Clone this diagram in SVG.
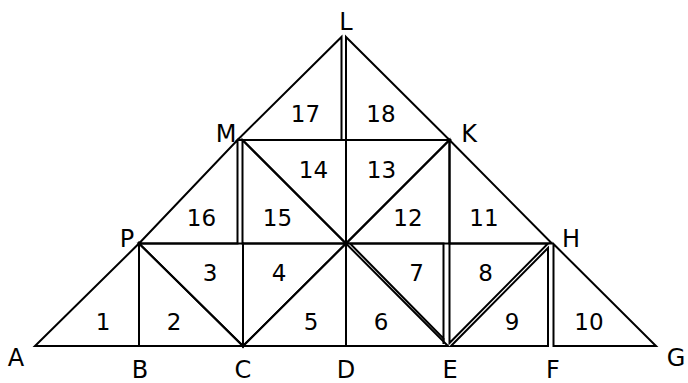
<svg xmlns="http://www.w3.org/2000/svg" width="688" height="383" viewBox="0 0 688 383">
<style>
.pc{fill:none;stroke:#000;stroke-width:2;stroke-linejoin:miter}
.n{font-family:"DejaVu Sans",sans-serif;font-size:23px;fill:#000;text-anchor:middle}
.v{font-family:"DejaVu Sans",sans-serif;font-size:24px;fill:#000;text-anchor:middle}
</style>
<rect width="688" height="383" fill="#fff"/>
<g id="pieces">
<g id="p1"><polygon class="pc" points="35,346 139,243.5 139,346"/><text class="n" x="103" y="329.5">1</text></g>
<g id="p2"><polygon class="pc" points="139,243.5 139,346 243,346"/><text class="n" x="174" y="329.5">2</text></g>
<g id="p3"><polygon class="pc" points="139,243.5 243,243.5 243,346"/><text class="n" x="210" y="281">3</text></g>
<g id="p4"><polygon class="pc" points="243,243.5 346,243.5 243,346"/><text class="n" x="279" y="281">4</text></g>
<g id="p5"><polygon class="pc" points="243,346 346,243.5 346,346"/><text class="n" x="311" y="329.5">5</text></g>
<g id="p6"><polygon class="pc" points="346,243.5 346,346 448,346"/><text class="n" x="381" y="329.5">6</text></g>
<g id="p7"><polygon class="pc" points="350,243.5 443.5,243.5 443.5,338.5"/><line class="pc" x1="443.5" y1="338" x2="443.5" y2="344"/><text class="n" x="416.5" y="281">7</text></g>
<g id="p8"><polygon class="pc" points="449.5,243.5 548,243.5 449.5,343"/><text class="n" x="485.5" y="281">8</text></g>
<g id="p9"><polygon class="pc" points="451,346 548,248 548,346"/><text class="n" x="512" y="329.5">9</text></g>
<g id="p10"><polygon class="pc" points="553.5,244 553.5,346 656,346"/><text class="n" x="589" y="329.5">10</text></g>
<g id="p11"><polygon class="pc" points="449.5,140 552,243.5 449.5,243.5"/><text class="n" x="484" y="226">11</text></g>
<g id="p12"><polygon class="pc" points="346,243.5 449.5,140 449.5,243.5"/><text class="n" x="408" y="226">12</text></g>
<g id="p13"><polygon class="pc" points="346,140 449.5,140 346,243.5"/><text class="n" x="381.5" y="178">13</text></g>
<g id="p14"><polygon class="pc" points="242.5,140 346,140 346,243.5"/><text class="n" x="313.5" y="178">14</text></g>
<g id="p15"><polygon class="pc" points="242.5,140 346,243.5 242.5,243.5"/><text class="n" x="277.5" y="226">15</text></g>
<g id="p16"><polygon class="pc" points="139,243.5 237.5,140 237.5,243.5"/><text class="n" x="201.5" y="226">16</text></g>
<g id="p17"><polygon class="pc" points="237.5,140 341.5,37 341.5,140"/><text class="n" x="305.5" y="121.5">17</text></g>
<g id="p18"><polygon class="pc" points="346,37 449.5,140 346,140"/><text class="n" x="381" y="121.5">18</text></g>
</g>
<g id="vertex-labels">
<text class="v" x="346" y="30">L</text>
<text class="v" x="226" y="142">M</text>
<text class="v" x="469" y="142">K</text>
<text class="v" x="127" y="247">P</text>
<text class="v" x="571" y="247">H</text>
<text class="v" x="16" y="366">A</text>
<text class="v" x="140" y="378">B</text>
<text class="v" x="243" y="378">C</text>
<text class="v" x="346" y="378">D</text>
<text class="v" x="450" y="378">E</text>
<text class="v" x="553" y="378">F</text>
<text class="v" x="676" y="366">G</text>
</g>
</svg>
